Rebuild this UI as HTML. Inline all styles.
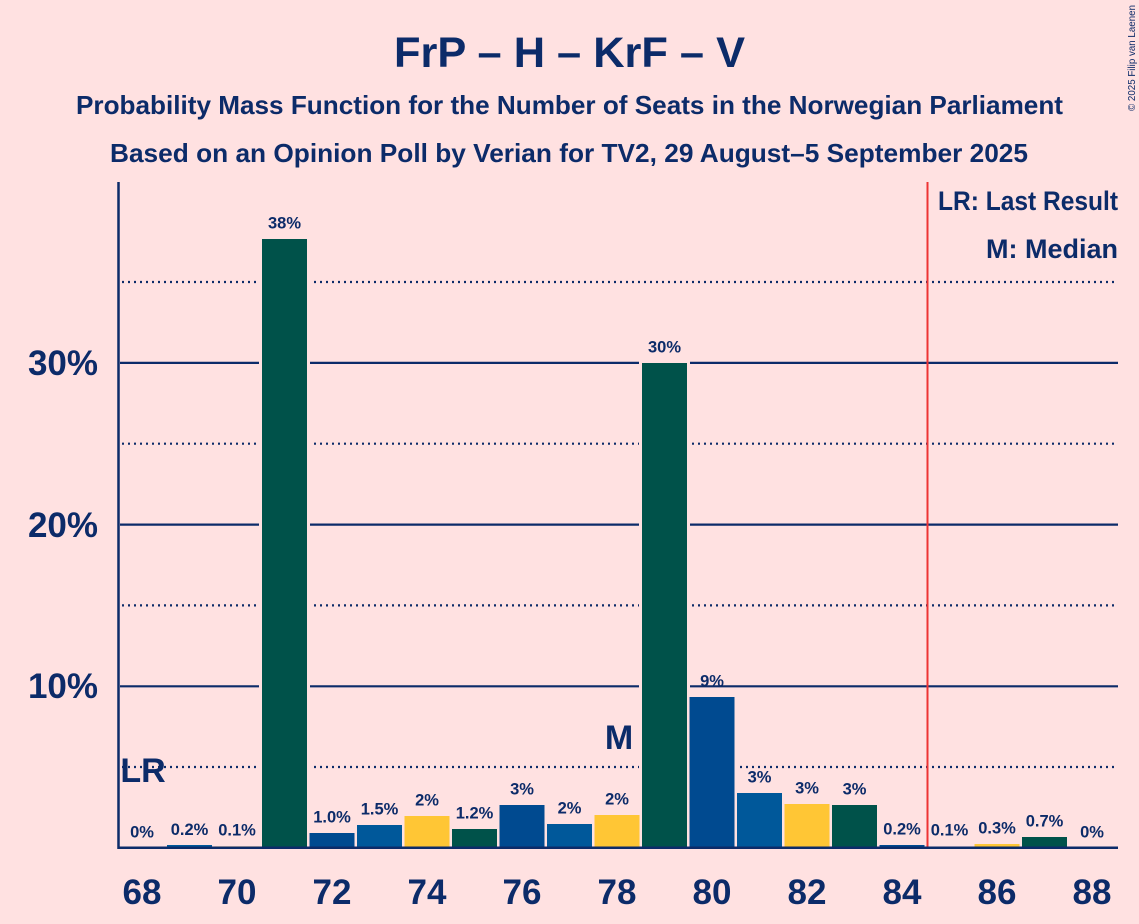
<!DOCTYPE html>
<html><head><meta charset="utf-8"><style>
html,body{margin:0;padding:0;background:#FFE1E1;}
svg{display:block;}
text{font-family:"Liberation Sans",sans-serif;font-weight:bold;fill:#0C2B69;}
</style></head><body>
<svg width="1139" height="924" viewBox="0 0 1139 924" xmlns="http://www.w3.org/2000/svg">
<rect width="1139" height="924" fill="#FFE1E1"/>
<text x="569.5" y="67" font-size="43" text-anchor="middle" textLength="351" lengthAdjust="spacingAndGlyphs">FrP – H – KrF – V</text>
<text x="569.5" y="114" font-size="26" text-anchor="middle" textLength="987" lengthAdjust="spacingAndGlyphs">Probability Mass Function for the Number of Seats in the Norwegian Parliament</text>
<text x="569" y="162" font-size="26" text-anchor="middle" textLength="918" lengthAdjust="spacingAndGlyphs">Based on an Opinion Poll by Verian for TV2, 29 August–5 September 2025</text>
<text transform="translate(1135,111) rotate(-90)" font-size="10.5" font-weight="normal" textLength="106" lengthAdjust="spacingAndGlyphs" style="font-weight:normal">© 2025 Filip van Laenen</text>

<!-- gridlines -->
<g stroke="#0C2B69" stroke-width="2.2" fill="none">
<line x1="120" y1="686.3" x2="1118" y2="686.3"/>
<line x1="120" y1="524.6" x2="1118" y2="524.6"/>
<line x1="120" y1="362.9" x2="1118" y2="362.9"/>
</g>
<g stroke="#0C2B69" stroke-width="2.2" stroke-dasharray="2,4" fill="none">
<line x1="122" y1="767" x2="1118" y2="767"/>
<line x1="122" y1="605.4" x2="1118" y2="605.4"/>
<line x1="122" y1="443.7" x2="1118" y2="443.7"/>
<line x1="122" y1="282" x2="1118" y2="282"/>
</g>

<!-- bar background halos -->
<g fill="#FFE1E1">
<rect x="164" y="842" width="51" height="6"/>
<rect x="259" y="236" width="51" height="612"/>
<rect x="307" y="830" width="51" height="18"/>
<rect x="354" y="822" width="51" height="26"/>
<rect x="402" y="813" width="51" height="35"/>
<rect x="449" y="826" width="51" height="22"/>
<rect x="497" y="802" width="51" height="46"/>
<rect x="544" y="821" width="51" height="27"/>
<rect x="592" y="812" width="51" height="36"/>
<rect x="639" y="360" width="51" height="488"/>
<rect x="687" y="694" width="51" height="154"/>
<rect x="734" y="790" width="51" height="58"/>
<rect x="782" y="801" width="51" height="47"/>
<rect x="829" y="802" width="51" height="46"/>
<rect x="877" y="842" width="51" height="6"/>
<rect x="924" y="843" width="51" height="5"/>
<rect x="972" y="841" width="51" height="7"/>
<rect x="1019" y="834" width="51" height="14"/>
</g>

<!-- bars -->
<rect x="167" y="845" width="45" height="3" fill="#00589A"/>
<rect x="214.5" y="846.4" width="45" height="1.6" fill="#FFC635"/>
<rect x="262" y="239" width="45" height="609" fill="#00524A"/>
<rect x="309.5" y="833" width="45" height="15" fill="#004A90"/>
<rect x="357" y="825" width="45" height="23" fill="#00589A"/>
<rect x="404.5" y="816" width="45" height="32" fill="#FFC635"/>
<rect x="452" y="829" width="45" height="19" fill="#00524A"/>
<rect x="499.5" y="805" width="45" height="43" fill="#004A90"/>
<rect x="547" y="824" width="45" height="24" fill="#00589A"/>
<rect x="594.5" y="815" width="45" height="33" fill="#FFC635"/>
<rect x="642" y="363" width="45" height="485" fill="#00524A"/>
<rect x="689.5" y="697" width="45" height="151" fill="#004A90"/>
<rect x="737" y="793" width="45" height="55" fill="#00589A"/>
<rect x="784.5" y="804" width="45" height="44" fill="#FFC635"/>
<rect x="832" y="805" width="45" height="43" fill="#00524A"/>
<rect x="879.5" y="845" width="45" height="3" fill="#004A90"/>
<rect x="927" y="846.5" width="45" height="1.5" fill="#00589A" opacity="0.5"/>
<rect x="974.5" y="844" width="45" height="4" fill="#FFC635"/>
<rect x="1022" y="837" width="45" height="11" fill="#00524A"/>

<!-- red last result line -->
<line x1="927.5" y1="182" x2="927.5" y2="848" stroke="#EE3333" stroke-width="2"/>

<!-- axes -->
<line x1="118.5" y1="182" x2="118.5" y2="849" stroke="#0C2B69" stroke-width="2.5"/>
<line x1="117.5" y1="847.8" x2="1118" y2="847.8" stroke="#0C2B69" stroke-width="2.5"/>

<!-- value labels -->
<g font-size="16.5" text-anchor="middle">
<text x="142" y="837.5">0%</text>
<text x="189.5" y="835">0.2%</text>
<text x="237" y="835.5">0.1%</text>
<text x="284.5" y="228.5">38%</text>
<text x="332" y="822.5">1.0%</text>
<text x="379.5" y="814.5">1.5%</text>
<text x="427" y="805.5">2%</text>
<text x="474.5" y="818.5">1.2%</text>
<text x="522" y="794.5">3%</text>
<text x="569.5" y="813.5">2%</text>
<text x="617" y="804.5">2%</text>
<text x="664.5" y="352.5">30%</text>
<text x="712" y="686.5">9%</text>
<text x="759.5" y="782.5">3%</text>
<text x="807" y="793.5">3%</text>
<text x="854.5" y="794.5">3%</text>
<text x="902" y="834.5">0.2%</text>
<text x="949.5" y="835.5">0.1%</text>
<text x="997" y="833.5">0.3%</text>
<text x="1044.5" y="826.5">0.7%</text>
<text x="1092" y="837.5">0%</text>
</g>

<!-- LR and M markers -->
<text x="143" y="782" font-size="34" text-anchor="middle">LR</text>
<text x="619" y="749" font-size="34" text-anchor="middle">M</text>

<!-- y labels -->
<g font-size="35" text-anchor="end">
<text x="98" y="698">10%</text>
<text x="98" y="537">20%</text>
<text x="98" y="375">30%</text>
</g>

<!-- x labels -->
<g font-size="35" text-anchor="middle">
<text x="142" y="904">68</text>
<text x="237" y="904">70</text>
<text x="332" y="904">72</text>
<text x="427" y="904">74</text>
<text x="522" y="904">76</text>
<text x="617" y="904">78</text>
<text x="712" y="904">80</text>
<text x="807" y="904">82</text>
<text x="902" y="904">84</text>
<text x="997" y="904">86</text>
<text x="1092" y="904">88</text>
</g>

<!-- legend -->
<text x="1118" y="210" font-size="27" text-anchor="end" textLength="180" lengthAdjust="spacingAndGlyphs">LR: Last Result</text>
<text x="1118" y="258" font-size="27" text-anchor="end" textLength="132" lengthAdjust="spacingAndGlyphs">M: Median</text>
</svg>
</body></html>
